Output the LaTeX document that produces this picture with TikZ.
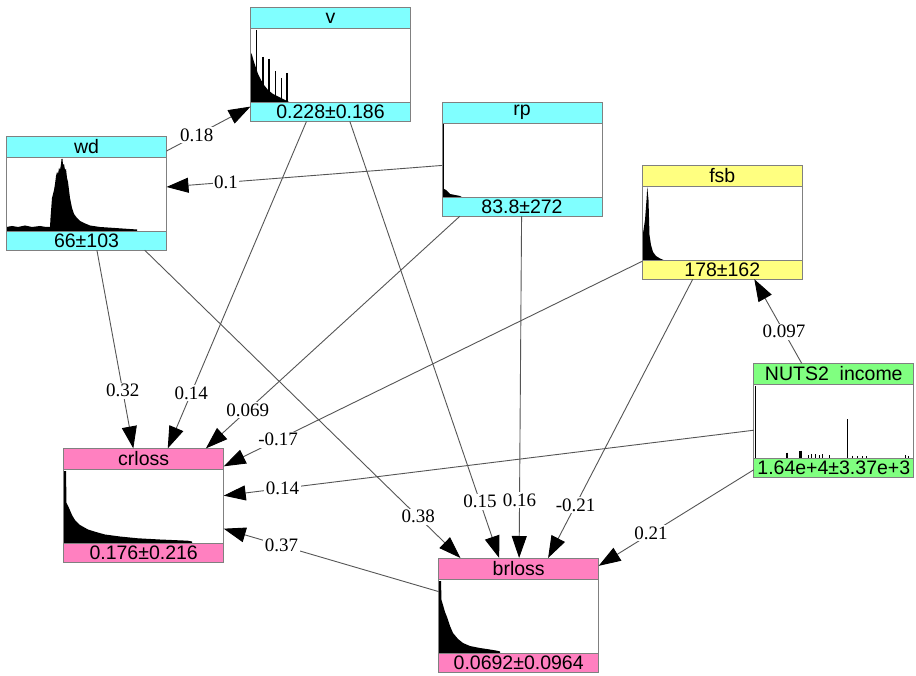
\documentclass[tikz,border=0pt]{standalone}
\usepackage{fontspec}
\setmainfont{Liberation Serif}
\setsansfont{Liberation Sans}
\usetikzlibrary{arrows.meta,calc}
\definecolor{cy}{HTML}{80FFFF}
\definecolor{ye}{HTML}{FFFF80}
\definecolor{gr}{HTML}{80FF80}
\definecolor{pk}{HTML}{FF80C0}
\definecolor{boxgray}{HTML}{808080}
\definecolor{edgegray}{HTML}{555555}
\tikzset{
  box/.style={draw=boxgray, line width=1pt, minimum width=160pt, minimum height=114pt, inner sep=0pt, outer sep=0pt},
  band/.style={draw=boxgray, line width=1pt},
  ttl/.style={font=\sffamily\fontsize{19.5}{22}\selectfont, inner sep=0pt},
  conn/.style={draw=edgegray, line width=0.9pt, -{Triangle[length=22pt,width=15pt,color=black,fill=black]}},
  lbl/.style={font=\fontsize{19}{20}\selectfont, fill=white, inner sep=1.5pt},
  hist/.style={fill=black, draw=none},
  spike/.style={draw=black, line width=1.3pt},
}
\newcommand{\varnode}[5]{%
  \node[box] (#1) at (#2) {};
  \draw[band, fill=#3] (#1.north west) rectangle ([yshift=-21pt]#1.north east);
  \node[ttl] (#1-t) at ([yshift=-10.5pt]#1.north) {#4};
  \draw[band, fill=#3] (#1.south west) rectangle ([yshift=19pt]#1.south east);
  \node[ttl] (#1-m) at ([yshift=9.5pt]#1.south) {#5};
}
\begin{document}
\begin{tikzpicture}[x=1pt,y=-1pt]
\fill[white] (0,0) rectangle (916,676);
\useasboundingbox (0,0) rectangle (916,676);

% histograms (drawn before bands)
% v
\fill[hist] (250.5,102.5) -- (250.5,52) -- (252,55) -- (254,62) -- (256,68) -- (258,74) -- (261,80) -- (264,85) -- (268,90) -- (273,94) -- (279,97) -- (285,100) -- (290,102.5) -- cycle;
\draw[spike] (256.5,30) -- (256.5,102.5);
\draw[spike] (263,57) -- (263,102.5);
\draw[spike] (269,59) -- (269,102.5);
\draw[spike] (275.5,71) -- (275.5,102.5);
\draw[spike] (281.5,78) -- (281.5,102.5);
\draw[spike] (287,73) -- (287,102.5);
% wd
\fill[hist] (6.5,231.2) -- (6.5,227) -- (12,226) -- (18,227) -- (25,225.5) -- (32,227) -- (40,226) -- (46,227) -- (50,227) -- (50.5,218) -- (52,198) -- (54,190) -- (55,184) -- (56,176) -- (57,172) -- (58,174) -- (59,168) -- (60,170) -- (61,164) -- (61.5,159) -- (62.5,159) -- (63,165) -- (64,164) -- (65,170) -- (66,169) -- (67,178) -- (68,182) -- (69,190) -- (70,198) -- (72,208) -- (74,214) -- (77,218) -- (80,221) -- (84,223) -- (90,225.5) -- (100,227) -- (115,228) -- (137,229.5) -- (137,231.2) -- cycle;
% rp
\draw[spike] (443,124) -- (443,197.2);
\fill[hist] (442,197.2) -- (442,188) -- (446,190) -- (450,194) -- (455,195) -- (460,196) -- (462,197.2) -- cycle;
% fsb
\fill[hist] (642.3,260.2) -- (642.3,238) -- (645,220) -- (646.5,200) -- (647.3,187) -- (648.5,200) -- (649.5,235) -- (651,245) -- (653,252) -- (656,256) -- (660,258.5) -- (664,260.2) -- cycle;
% NUTS2
\draw[spike] (755.5,385.5) -- (755.5,458.4);
\draw[spike] (847.3,419) -- (847.3,458.4);
\draw[black, line width=2pt] (786.7,452.5) -- (786.7,458.4);
\draw[black, line width=3pt] (800,450.5) -- (800,458.4);
\foreach \xx/\yy in {808/455,811/454,815/454,819/455,822/454,829/455,852/455.5,857/456,862/456,866/456,905/455,908/456}
  \draw[black, line width=0.8pt] (\xx,\yy) -- (\xx,458.4);
% crloss
\fill[hist] (63.7,543.4) -- (63.7,471) -- (66,471) -- (66.5,503) -- (69,508) -- (72,515) -- (75,520) -- (80,525) -- (88,529.5) -- (96,532) -- (105,534.5) -- (120,536.5) -- (138,538.3) -- (160,539.5) -- (188,540.7) -- (192,541.5) -- (192,543.4) -- cycle;
% brloss
\fill[hist] (438.7,653) -- (438.7,581) -- (441,581) -- (441.5,600) -- (443,605) -- (445,612) -- (447,617) -- (450,626) -- (453,633) -- (458,639) -- (463,643) -- (470,646) -- (480,648) -- (490,649.5) -- (497,650.7) -- (500,651.5) -- (500,653) -- cycle;

% nodes
\varnode{v}{330.5,64.5}{cy}{v}{0.228±0.186}
\varnode{wd}{86.5,193.2}{cy}{wd}{66±103}
\varnode{rp}{522,159.2}{cy}{rp}{83.8±272}
\varnode{fsb}{722.3,222.2}{ye}{fsb}{178±162}
\varnode{nuts}{833.8,420.4}{gr}{NUTS2\ \ income}{1.64e+4±3.37e+3}
\varnode{crloss}{143.7,505.4}{pk}{crloss}{0.176±0.216}
\varnode{brloss}{518.7,615}{pk}{brloss}{0.0692±0.0964}

% connectors
\draw[conn] (wd) -- node[lbl,pos=0.36] (l1) {0.18} (v);
\draw[conn] (rp) -- node[lbl,pos=0.784] (l2) {0.1} (wd);
\draw[conn] (nuts) -- node[lbl,pos=0.376] (l3) {0.097} (fsb);
\draw[conn] (wd) -- node[lbl,pos=0.709] (l4) {0.32} (crloss);
\draw[conn] (v) -- node[lbl,pos=0.83] (l5) {0.14} (crloss);
\draw[conn] (rp) -- node[lbl,pos=0.835] (l6) {0.069} (crloss);
\draw[conn] (fsb) -- node[lbl,pos=0.87] (l7) {-0.17} (crloss);
\draw[conn] (nuts) -- node[lbl,pos=0.889] (l8) {0.14} (crloss);
\draw[conn] (brloss) -- node[lbl,pos=0.731] (l9) {0.37} (crloss);
\draw[conn] (wd) -- node[lbl,pos=0.866] (l10) {0.38} (brloss);
\draw[conn] (v) -- node[lbl,pos=0.871] (l11) {0.15} (brloss);
\draw[conn] (rp) -- node[lbl,pos=0.83] (l12) {0.16} (brloss);
\draw[conn] (fsb) -- node[lbl,pos=0.81] (l13) {-0.21} (brloss);
\draw[conn] (nuts) -- node[lbl,pos=0.663] (l14) {0.21} (brloss);
\end{tikzpicture}
\end{document}
